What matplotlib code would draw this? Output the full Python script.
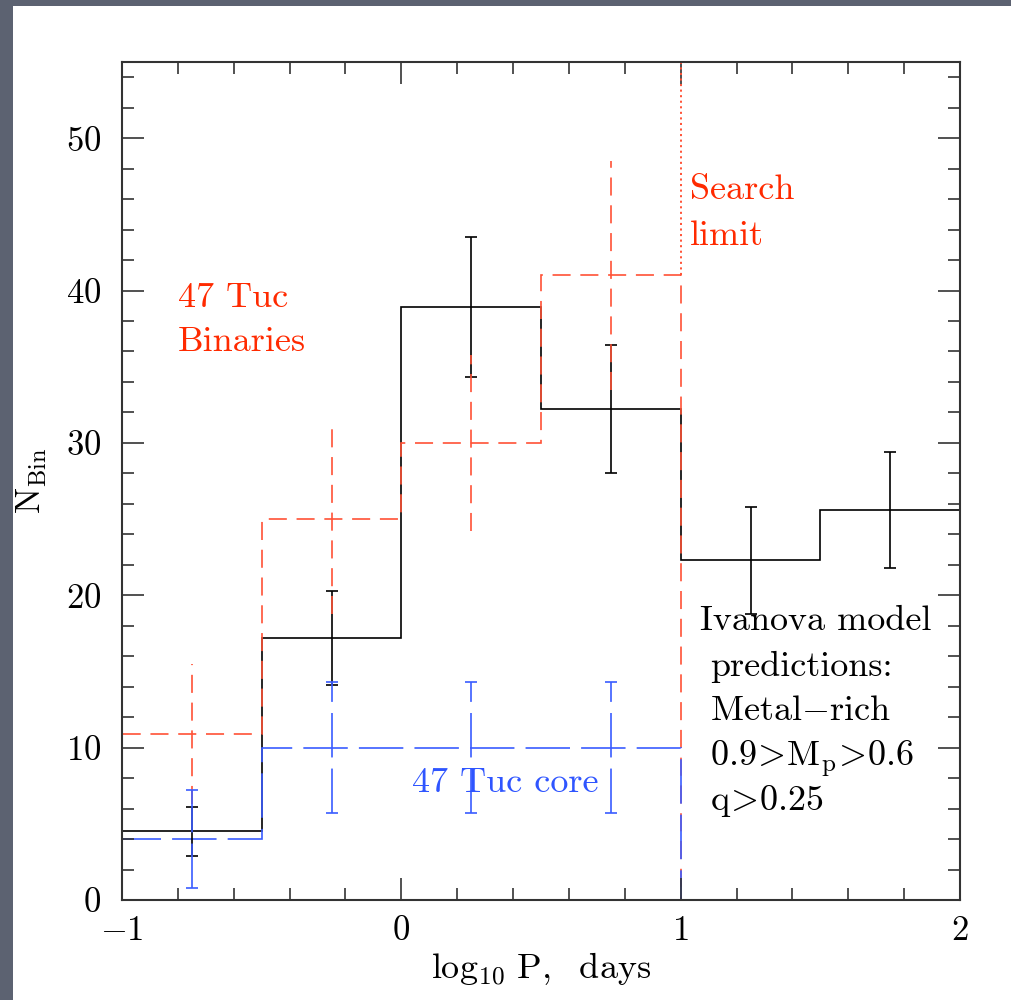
import numpy as np
import matplotlib
matplotlib.use("Agg")
import matplotlib.pyplot as plt
from matplotlib.patches import Rectangle
from matplotlib.ticker import MultipleLocator

plt.rcParams['font.family'] = 'cmr10'
plt.rcParams['mathtext.fontset'] = 'cm'
plt.rcParams['axes.formatter.use_mathtext'] = True
plt.rcParams['lines.scale_dashes'] = False

# Period bins (log10 P, days)
edges = [-1.0, -0.5, 0.0, 0.5, 1.0, 1.5, 2.0]
centers = [-0.75, -0.25, 0.25, 0.75, 1.25, 1.75]

# Ivanova model predictions
model_n = [4.5, 17.2, 38.9, 32.2, 22.3, 25.6]
model_err = [1.6, 3.1, 4.6, 4.2, 3.5, 3.8]

# 47 Tuc binaries (up to the search limit)
bin_edges = [-1.0, -0.5, 0.0, 0.5, 1.0]
bin_centers = [-0.75, -0.25, 0.25, 0.75]
bin_n = [10.9, 25.0, 30.0, 41.0]
bin_err = [4.6, 6.2, 5.8, 7.5]

# 47 Tuc core
core_n = [4.0, 10.0, 10.0, 10.0]
core_err = [3.2, 4.3, 4.3, 4.3]

search_limit = 1.0

red = '#ff5236'
red_txt = '#ff2a00'
blue = '#3a5cff'
blue_txt = '#2f55ff'
lw = 1.2

fig = plt.figure(figsize=(10.11, 10.0), dpi=100, facecolor='#5c6271')
fig.patches.append(Rectangle((0.0129, 0.0), 0.9871, 0.994, transform=fig.transFigure,
                             facecolor='white', edgecolor='none', zorder=-10))
ax = fig.add_axes([0.1207, 0.1, 0.8289, 0.838])
ax.set_facecolor('white')

# model histogram (solid black)
ax.stairs(model_n, edges, baseline=None, color='black', lw=lw)
ax.errorbar(centers, model_n, yerr=model_err, fmt='none', ecolor='black',
            elinewidth=lw, capsize=4.5, capthick=lw)

# binaries (short dashes, no caps)
ax.stairs(bin_n, bin_edges, baseline=0, color=red, lw=lw, linestyle=(0, (13, 7)))
eb = ax.errorbar(bin_centers, bin_n, yerr=bin_err, fmt='none', ecolor=red,
                 elinewidth=lw, capsize=0)
eb[2][0].set_linestyle((0, (13, 7)))

# core (long dashes with caps)
ax.stairs(core_n, bin_edges, baseline=0, color=blue, lw=lw, linestyle=(0, (32, 8)))
eb = ax.errorbar(bin_centers, core_n, yerr=core_err, fmt='none', ecolor=blue,
                 elinewidth=lw, capsize=4.5, capthick=lw)
eb[2][0].set_linestyle((0, (32, 8)))

# search limit marker
ax.plot([search_limit, search_limit], [bin_n[-1], 55], color=red, lw=1.4,
        linestyle=(0, (1.5, 2.5)))

ax.set_xlim(-1, 2)
ax.set_ylim(0, 55)
ax.xaxis.set_major_locator(MultipleLocator(1))
ax.xaxis.set_minor_locator(MultipleLocator(0.2))
ax.yaxis.set_major_locator(MultipleLocator(10))
ax.yaxis.set_minor_locator(MultipleLocator(2))
ax.tick_params(which='both', direction='in', top=True, right=True, width=1.2,
               labelsize=25, color='#333333')
ax.tick_params(which='major', length=16)
ax.tick_params(which='minor', length=8.5)
ax.tick_params(axis='x', which='major', pad=11)
ax.tick_params(axis='y', which='major', pad=15)
for s in ax.spines.values():
    s.set_linewidth(1.5)
    s.set_color('#333333')

ax.set_xlabel(r'$\mathrm{log_{10}\ P,\ \ days}$', fontsize=26, labelpad=2)
ax.set_ylabel(r'$\mathrm{N_{Bin}}$', fontsize=25, labelpad=12)

fs = 26
ax.text(-0.80, 38.9, '47 Tuc', color=red_txt, fontsize=fs, va='baseline')
ax.text(-0.80, 36.0, 'Binaries', color=red_txt, fontsize=fs, va='baseline')
ax.text(1.034, 46.0, 'Search', color=red_txt, fontsize=fs, va='baseline')
ax.text(1.034, 43.0, 'limit', color=red_txt, fontsize=fs, va='baseline')
ax.text(0.371, 7.7, '47 Tuc core', color=blue_txt, fontsize=fs, va='center', ha='center')

ax.text(1.07, 17.7, 'Ivanova model', fontsize=fs, va='baseline')
ax.text(1.105, 14.7, 'predictions:', fontsize=fs, va='baseline')
ax.text(1.105, 11.8, r'$\mathrm{Metal{-}rich}$', fontsize=fs, va='baseline')
ax.text(1.105, 8.8, r'$0.9\!>\!\mathrm{M_p}\!>\!0.6$', fontsize=fs, va='baseline')
ax.text(1.105, 5.9, r'$\mathrm{q}\!>\!0.25$', fontsize=fs, va='baseline')

fig.savefig('out.png', dpi=100, facecolor=fig.get_facecolor())
